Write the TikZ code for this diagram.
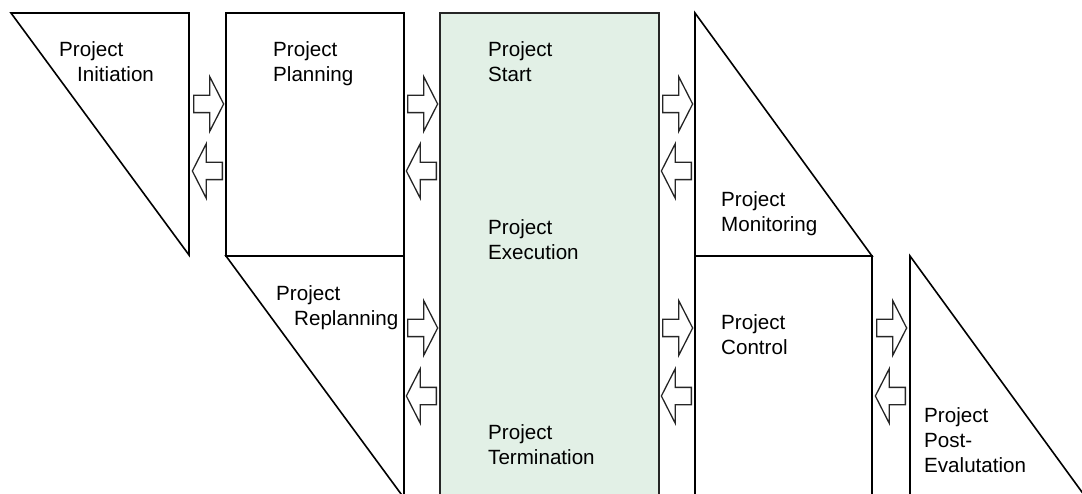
\documentclass[tikz,border=0pt]{standalone}
\usepackage{fontspec}
\setmainfont{Liberation Sans}
\usetikzlibrary{shapes.arrows}
\definecolor{execgreen}{RGB}{226,240,230}
\tikzset{
  phase/.style={draw=black, line width=1.6pt, line join=miter},
  lbl/.style={anchor=base west, align=left, inner sep=0pt,
              font=\fontsize{20.6}{25}\selectfont},
  flow/.style={single arrow, draw=black!85, line width=1.3pt, fill=white,
               inner xsep=0pt, inner ysep=8pt, minimum height=30pt,
               single arrow head extend=18.5pt, single arrow tip angle=126},
}

\begin{document}
\begin{tikzpicture}[x=1pt,y=-1pt]
  \useasboundingbox (0,0) rectangle (1082,494);
  \clip (0,0) rectangle (1082,494);
  % phases
  \draw[phase] (11,13) -- (189,13) -- (189,255) -- cycle;
  \draw[phase] (226,13) rectangle (404,256);
  \draw[phase] (226,256) -- (404,256) -- (404,498) -- cycle;
  \draw[phase, fill=execgreen, draw=black!85] (440,13) rectangle (659,520);
  \draw[phase] (695,13) -- (872,256) -- (695,256) -- cycle;
  \draw[phase] (695,256) rectangle (872,520);
  \draw[phase] (910,256) -- (1087,499) -- (910,499) -- cycle;
  % labels (placed at the baseline of the last line)
  \node[lbl] (init)  at (59,82)  {Project\\\hspace{18pt}Initiation};
  \node[lbl] (plan)  at (273,82) {Project\\Planning};
  \node[lbl] (replan) at (276,326) {Project\\\hspace{18pt}Replanning};
  \node[lbl] (start) at (488,82)  {Project\\Start};
  \node[lbl] (exec)  at (488,260) {Project\\Execution};
  \node[lbl] (term)  at (488,464) {Project\\Termination};
  \node[lbl] (mon)   at (721,232) {Project\\Monitoring};
  \node[lbl] (ctrl)  at (721,355) {Project\\Control};
  \node[lbl] (post)  at (924,472) {Project\\Post-\\Evalutation};
  % arrows
  \foreach \x/\y/\n in {193/104/r1, 407/104/r2, 662/104/r3,
                        407/328/r4, 662/328/r5, 876/328/r6}
    \node[flow, anchor=tail] (\n) at (\x,\y) {};
  \foreach \x/\y/\n in {223/171/l1, 437/171/l2, 692/171/l3,
                        437/396/l4, 692/396/l5, 906/396/l6}
    \node[flow, shape border rotate=180, anchor=tail] (\n) at (\x,\y) {};
\end{tikzpicture}
\end{document}
